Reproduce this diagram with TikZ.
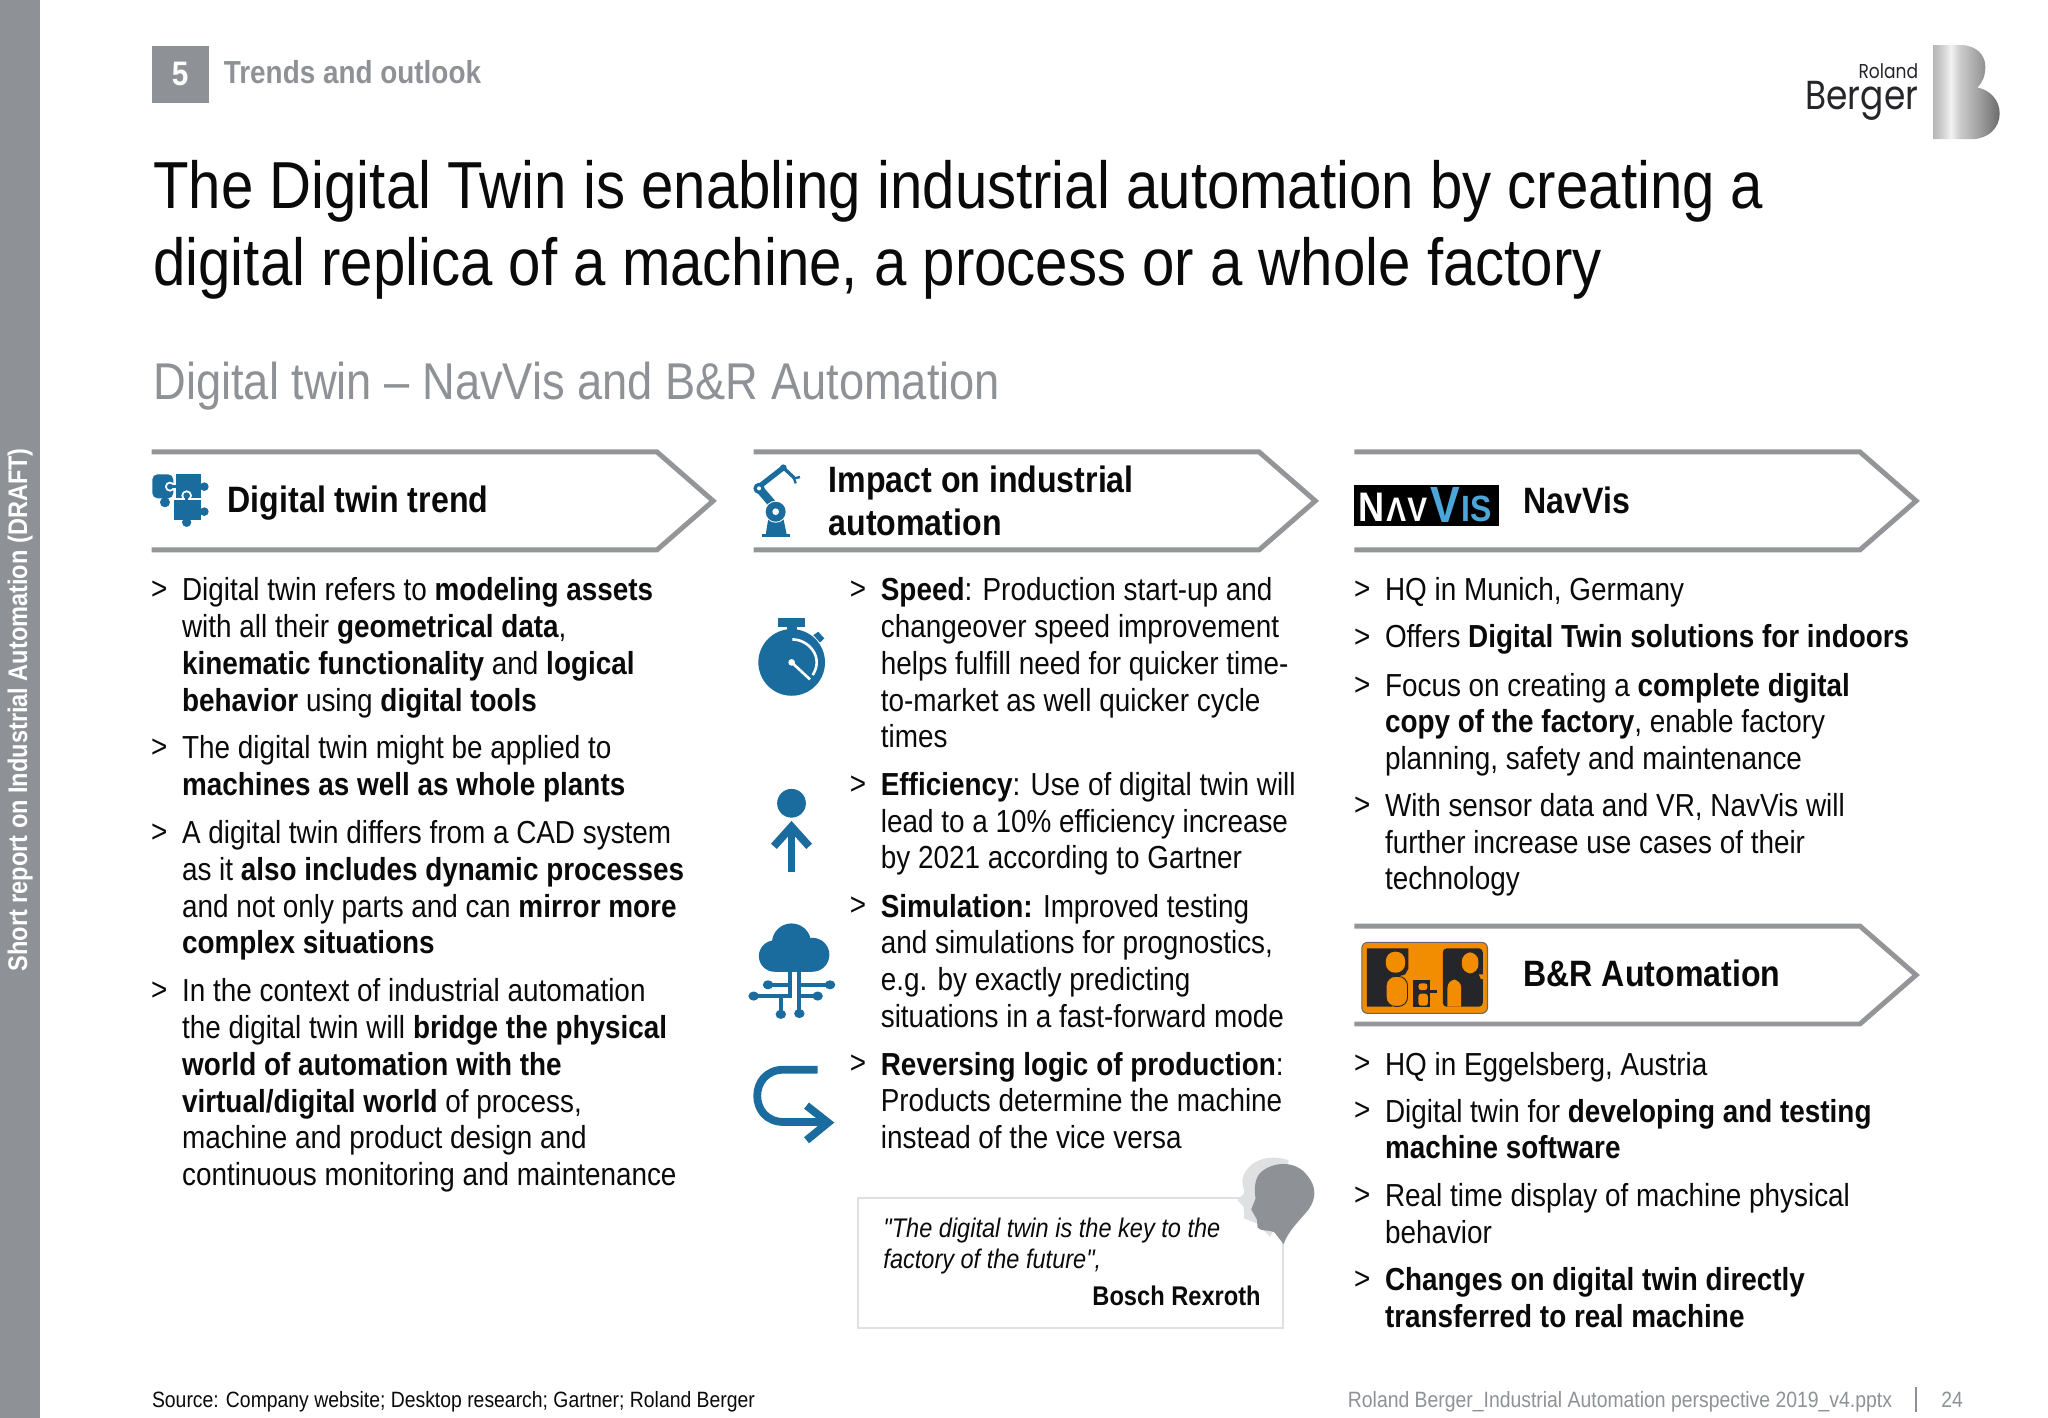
\documentclass[tikz,border=0pt]{standalone}
\usepackage{fontspec}
\setmainfont[FakeStretch=0.875]{Liberation Sans}
\newfontfamily\quotefont[FakeStretch=0.875]{Liberation Sans}
\newfontfamily\logofont[FakeStretch=0.85]{Poppins}
\definecolor{rbgray}{HTML}{8E9196}
\definecolor{rbline}{HTML}{939598}
\definecolor{rbblue}{HTML}{1A6C9F}
\definecolor{rbtext}{HTML}{0A0A0A}
\definecolor{rbquote}{HTML}{DFE0E2}
\definecolor{rborange}{HTML}{F28C00}
\definecolor{rbblack}{HTML}{25262A}
\definecolor{navblue}{HTML}{4BA6DA}
\pgfdeclarehorizontalshading{bsilver}{100bp}{
  rgb(0bp)=(.72,.72,.72); rgb(25bp)=(.72,.72,.72); rgb(30bp)=(.78,.78,.78); rgb(38.5bp)=(.95,.95,.95);
  rgb(45bp)=(.8,.8,.8); rgb(60bp)=(.62,.62,.62); rgb(75bp)=(.42,.42,.42); rgb(100bp)=(.42,.42,.42)}
\tikzset{
  banner/.style={draw=rbline,line width=1.9pt,miter limit=10},
  para/.style={anchor=north west,inner sep=0pt,align=left,text=rbtext,font=\fontsize{12.2}{14.05}\selectfont},
  bulletmark/.style={anchor=center,inner sep=0pt,text=rbtext,font=\fontsize{12.2}{14}\selectfont},
  headtext/.style={anchor=west,inner sep=0pt,align=left,text=rbtext,font=\fontsize{14.05}{16.5}\selectfont\bfseries},
  icon/.style={fill=rbblue,draw=none},
  iconline/.style={draw=rbblue,line width=1.5pt},
  footertext/.style={inner sep=0pt,font=\fontsize{8.48}{10}\selectfont},
  navtext/.style={anchor=base west,inner sep=0pt,font=\fontsize{#1}{18}\selectfont\bfseries}
}
\begin{document}
\begin{tikzpicture}[x=0.5pt,y=-0.5pt]
\useasboundingbox (0,0) rectangle (1568,1085.6);
% side bar and header
\fill[rbgray] (0,0) rectangle (31,1085.6);
\node[rotate=90,inner sep=0pt,text=white,font=\fontsize{10.3}{13}\selectfont\bfseries] (sidetext) at (15.5,543.5) {Short report on Industrial Automation (DRAFT)};
\node[fill=rbgray,minimum width=22pt,minimum height=22pt,inner sep=0pt,text=white,font=\fontsize{13}{15}\selectfont\bfseries] (chapter) at (138,57) {5};
\node[anchor=west,inner sep=0pt,text=rbgray,font=\fontsize{12.2}{15}\selectfont\bfseries] (chaptertext) at (171,55) {Trends and outlook};
\node[anchor=north west,inner sep=0pt,align=left,text=rbtext,font=\fontsize{25.45}{29.5}\selectfont] (title) at (117,122) {The Digital Twin is enabling industrial automation by creating a\\digital replica of a machine, a process or a whole factory};
\node[anchor=west,inner sep=0pt,text=rbgray,font=\fontsize{19.8}{23}\selectfont] (subtitle) at (117,296) {Digital twin -- NavVis and B\&R Automation};
% logo
\node[anchor=base east,inner sep=0pt,text=rbblack,font=\logofont\fontsize{7.7}{9}\selectfont] (roland) at (1469,60) {Roland};
\node[anchor=base east,inner sep=0pt,text=rbblack,font=\logofont\fontsize{15.5}{17}\selectfont] (berger) at (1469,83.5) {Berger};
\shade[shading=bsilver] (1480,34.5) -- (1501,34.5) .. controls (1513,34.5) and (1520,42) .. (1520,51) .. controls (1520,58) and (1518,63) .. (1514,67) .. controls (1524,69) and (1531,77) .. (1531,87) .. controls (1531,98) and (1522,106.5) .. (1510,106.5) -- (1480,106.5) -- cycle;
% banners
\foreach \x in {116,577,1037}
\draw[banner,shift={(\x,346)}] (0,0) -- (387,0) -- (430,37.5) -- (387,75) -- (0,75);
\draw[banner,shift={(1037,709)}] (0,0) -- (387,0) -- (430,37.5) -- (387,75) -- (0,75);
\node[headtext] (trendhead) at (174,385) {Digital twin trend};
\node[headtext] (impacthead) at (634,383.5) {Impact on industrial\\automation};
\node[headtext] (navvishead) at (1166,383) {NavVis};
\node[headtext] (brhead) at (1166,745) {B\&R Automation};
% bullets
\foreach \n/\x/\y in {1/122/452,2/122/573,3/122/638,4/122/759,5/657/452,6/657/601,7/657/694,8/657/815,9/1043/452,10/1043/489,11/1043/525,12/1043/617,13/1043/815,14/1043/851,15/1043/916,16/1043/980}
\node[bulletmark] (bullet\n) at (\x,\y) {>};
% first column
\node[para] (trendone) at (139,442) {Digital twin refers to \textbf{modeling assets}\\with all their \textbf{geometrical data},\\\textbf{kinematic functionality} and \textbf{logical}\\\textbf{behavior} using \textbf{digital tools}};
\node[para] (trendtwo) at (139,563) {The digital twin might be applied to\\\textbf{machines as well as whole plants}};
\node[para] (trendthree) at (139,628) {A digital twin differs from a CAD system\\as it \textbf{also includes dynamic processes}\\and not only parts and can \textbf{mirror more}\\\textbf{complex situations}};
\node[para] (trendfour) at (139,749) {In the context of industrial automation\\the digital twin will \textbf{bridge the physical}\\\textbf{world of automation with the}\\\textbf{virtual/digital world} of process,\\machine and product design and\\continuous monitoring and maintenance};
% second column
\node[para] (speed) at (674,442) {\textbf{Speed}: Production start-up and\\changeover speed improvement\\helps fulfill need for quicker time-\\to-market as well quicker cycle\\times};
\node[para] (efficiency) at (674,591) {\textbf{Efficiency}: Use of digital twin will\\lead to a 10\% efficiency increase\\by 2021 according to Gartner};
\node[para] (simulation) at (674,684) {\textbf{Simulation:} Improved testing\\and simulations for prognostics,\\e.g. by exactly predicting\\situations in a fast-forward mode};
\node[para] (reversing) at (674,805) {\textbf{Reversing logic of production}:\\Products determine the machine\\instead of the vice versa};
% third column
\node[para] (navone) at (1060,442) {HQ in Munich, Germany};
\node[para] (navtwo) at (1060,478) {Offers \textbf{Digital Twin solutions for indoors}};
\node[para] (navthree) at (1060,515) {Focus on creating a \textbf{complete digital}\\\textbf{copy of the factory}, enable factory\\planning, safety and maintenance};
\node[para] (navfour) at (1060,607) {With sensor data and VR, NavVis will\\further increase use cases of their\\technology};
\node[para] (brone) at (1060,805) {HQ in Eggelsberg, Austria};
\node[para] (brtwo) at (1060,841) {Digital twin for \textbf{developing and testing}\\\textbf{machine software}};
\node[para] (brthree) at (1060,906) {Real time display of machine physical\\behavior};
\node[para] (brfour) at (1060,970) {\textbf{Changes on digital twin directly}\\\textbf{transferred to real machine}};
% quote
\draw[rbquote,line width=0.8pt] (657,917.5) rectangle (982.6,1017);
\node[anchor=north west,inner sep=0pt,align=left,text=rbtext,font=\quotefont\fontsize{10.3}{11.9}\selectfont\itshape] (quote) at (676,932) {"The digital twin is the key to the\\factory of the future",};
\node[anchor=base east,inner sep=0pt,text=rbtext,font=\fontsize{10.35}{12}\selectfont\bfseries] (bosch) at (965.6,999.8) {Bosch Rexroth};
\begin{scope}[shift={(643.2,872.9)},scale=0.2553]
\fill[rbquote] (1345,60) .. controls (1300,45) and (1235,50) .. (1210,105) .. controls (1200,130) and (1215,150) .. (1212,160) -- (1192,180) -- (1210,200) -- (1212,235) -- (1250,250) -- (1290,290) -- (1330,200) -- cycle;
\fill[rbgray] (1330,312) -- (1302,276) .. controls (1285,268) and (1262,275) .. (1252,262) -- (1250,238) -- (1233,208) -- (1246,175) .. controls (1240,140) and (1245,105) .. (1270,90) .. controls (1310,62) and (1370,65) .. (1400,105) .. controls (1430,140) and (1428,175) .. (1405,208) .. controls (1375,245) and (1345,270) .. cycle;
\end{scope}
% footer
\node[footertext,anchor=west,text=rbtext] (source) at (116,1073) {Source: Company website; Desktop research; Gartner; Roland Berger};
\node[footertext,anchor=east,text=rbgray] (filename) at (1449,1073) {Roland Berger\_Industrial Automation perspective 2019\_v4.pptx};
\node[footertext,anchor=west,text=rbgray] (pagenum) at (1486,1072) {24};
\draw[rbgray,line width=0.7pt] (1467,1062) -- (1467,1081);
% navvis logo
\fill[black] (1037,371) rectangle (1147.5,403);
\node[navtext=15.8,text=white] (navn) at (1040,399) {N};
\node[navtext=13,text=white] (navav) at (1061,399) {Λ\kern 0.5pt V};
\node[navtext=19.5,text=navblue] (navvee) at (1094.5,400) {V};
\node[navtext=14,text=navblue] (navis) at (1118.5,399.5) {IS};
% b and r logo
\begin{scope}[shift={(1033.7,715.9)},scale=0.2552]
\fill[rborange,draw=rbblack!70,rounded corners=2.2pt,line width=0.4pt] (35,22) rectangle (412,235);
\fill[rbblack] (50,40) -- (175,40) -- (175,100) -- (165,118) -- (125,130) -- (125,215) -- (50,215) -- cycle;
\fill[rborange,rounded corners=3.5pt] (107,50) rectangle (165,113);
\fill[rborange,draw=rbblack,line width=0.35pt,rounded corners=3.5pt] (108,124) rectangle (172,214);
\fill[rbblack] (190,135) rectangle (240,215);
\fill[rbblack] (238,166) rectangle (260,175);
\fill[rborange,rounded corners=1pt] (205,145) rectangle (232,165);
\fill[rborange,rounded corners=1pt] (205,176) rectangle (233,212);
\fill[rbblack,rounded corners=1.5pt] (278,40) rectangle (398,215);
\fill[rborange,rounded corners=3.5pt] (335,52) rectangle (385,115);
\fill[rborange] (386,118) -- (400,118) -- (400,132) -- (392,132) -- cycle;
\fill[rborange,rounded corners=3pt] (292,215) -- (292,134) -- (333,134) -- (333,215);
\end{scope}
% puzzle icon
\begin{scope}[shift={(111,356)},scale=0.2552]
\fill[icon,rounded corners=2pt] (22,100) -- (22,28) -- (85,28) -- (85,100) -- cycle;
\fill[icon] (60,112) circle (15);
\fill[white] (75,65) circle (15);
\fill[icon] (93,28) rectangle (168,100);
\fill[icon] (178,65) circle (13);
\fill[icon] (75,65) circle (9);
\fill[icon] (75,60) rectangle (95,70);
\fill[white] (86,100) rectangle (172,106);
\fill[white] (125,92) circle (16);
\fill[icon] (88,106) rectangle (168,165);
\fill[icon] (178,140) circle (13);
\fill[icon] (125,172) circle (14);
\fill[icon] (125,92) circle (10);
\fill[icon] (120,92) rectangle (130,108);
\end{scope}
% robot icon
\begin{scope}[shift={(570.4,348.4)},scale=0.2552]
\fill[icon] (52,237) rectangle (135,247);
\fill[icon] (62,238) -- (70,190) -- (115,190) -- (125,238) -- cycle;
\draw[rbblue,line width=3.2pt] (42,100) -- (85,150);
\draw[rbblue,line width=2pt] (42,95) -- (115,38);
\draw[rbblue,line width=1.3pt] (115,38) -- (147,68);
\draw[rbblue,line width=0.9pt] (165,66) -- (147,70) -- (152,85);
\fill[icon] (115,38) circle (10);
\fill[icon] (42,100) circle (17);
\fill[white] (42,100) circle (6);
\fill[white] (92,170) circle (33);
\fill[icon] (92,170) circle (30);
\fill[white] (92,170) circle (10);
\end{scope}
% stopwatch icon
\begin{scope}[shift={(570.4,467.1)},scale=0.2552]
\fill[icon] (140,157) circle (100);
\fill[icon] (100,25) rectangle (180,50);
\fill[icon] (125,50) rectangle (155,65);
\fill[icon] (205,75) -- (220,65) -- (238,85) -- (225,97) -- cycle;
\draw[white,line width=1pt] (142,88) .. controls (190,88) and (238,140) .. (203,195);
\draw[white,line width=1pt] (140,157) -- (195,208);
\fill[white] (140,157) circle (10);
\end{scope}
% efficiency icon
\fill[icon] (606,615) circle (11);
\draw[rbblue,line width=3pt] (606,632) -- (606,668);
\draw[rbblue,line width=3pt] (592.5,648) -- (606,633) -- (619.5,648);
% cloud icon
\fill[icon] (606,722) circle (15);
\fill[icon] (593,732) circle (12);
\fill[icon] (622,731) circle (13);
\fill[icon] (593,733) rectangle (622,744);
\draw[iconline] (605,744) -- (605,762.6) -- (577,762.6);
\draw[iconline] (588,754) -- (605,754);
\draw[iconline] (597.8,762.6) -- (597.8,776.6);
\draw[iconline] (612,744) -- (612,776);
\draw[iconline] (612,754) -- (635.5,754);
\draw[iconline] (612,762.6) -- (626,762.6);
\foreach \x/\y in {577/762.6,588/754,635.5/754,626/762.6,597.8/776.6,612/776}
\fill[icon] (\x,\y) ellipse (4 and 3.5);
% reversing icon
\draw[rbblue,line width=3pt] (626,819) -- (600,819) .. controls (573,819) and (573,859) .. (600,859) -- (633,859);
\draw[rbblue,line width=3pt] (617.5,846.5) -- (634,859.5) -- (617.5,873);
\end{tikzpicture}
\end{document}
